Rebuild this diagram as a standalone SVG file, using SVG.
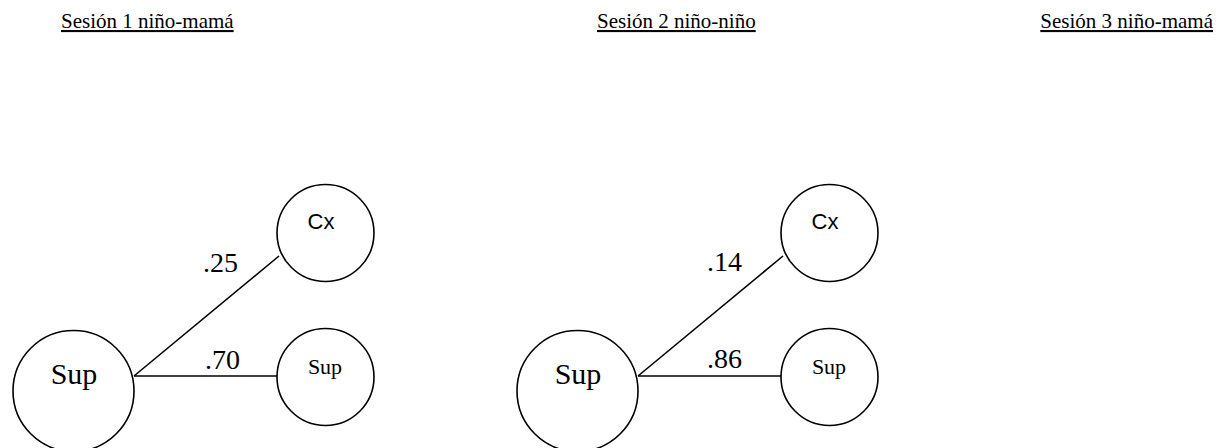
<svg xmlns="http://www.w3.org/2000/svg" width="1219" height="448" viewBox="0 0 1219 448">
  <style>
    .bg { fill: #ffffff; }
    .node { fill: #ffffff; stroke: #000000; stroke-width: 1.6; }
    .edge { stroke: #000000; stroke-width: 1.6; fill: none; }
    .serif { font-family: "Liberation Serif", "Times New Roman", serif; fill: #000000; }
    .sans { font-family: "Liberation Sans", Arial, sans-serif; fill: #000000; }
    .title { font-size: 21px; text-decoration: underline; }
    .big { font-size: 30px; text-anchor: middle; }
    .small { font-size: 22px; text-anchor: middle; }
    .cx { font-size: 22px; text-anchor: middle; }
    .weight { font-size: 28px; }
  </style>
  <rect class="bg" x="0" y="0" width="1219" height="448"/>

  <!-- session headings -->
  <g id="titles">
    <text class="serif title" x="61" y="28">Sesión 1 niño-mamá</text>
    <text class="serif title" x="597" y="28">Sesión 2 niño-niño</text>
    <text class="serif title" x="1213" y="28" text-anchor="end">Sesión 3 niño-mamá</text>
  </g>

  <!-- connectors with their weights -->
  <g id="connectors">
    <line class="edge" x1="134" y1="376" x2="279" y2="256"/>
    <line class="edge" x1="134" y1="376" x2="277" y2="376"/>
    <line class="edge" x1="638" y1="376" x2="783" y2="256"/>
    <line class="edge" x1="638" y1="376" x2="781" y2="376"/>
    <text class="serif weight" x="203" y="272">.25</text>
    <text class="serif weight" x="205" y="369">.70</text>
    <text class="serif weight" x="707" y="271">.14</text>
    <text class="serif weight" x="707" y="368">.86</text>
  </g>

  <!-- session 1 -->
  <g id="s1-sup">
    <circle class="node" cx="73.5" cy="391" r="60.5"/>
    <text class="serif big" x="74" y="384">Sup</text>
  </g>
  <g id="s1-cx">
    <circle class="node" cx="325.5" cy="233" r="48.5"/>
    <text class="sans cx" x="321" y="229">Cx</text>
  </g>
  <g id="s1-sup2">
    <circle class="node" cx="325.5" cy="377" r="48.5"/>
    <text class="serif small" x="325" y="374">Sup</text>
  </g>

  <!-- session 2 -->
  <g id="s2-sup">
    <circle class="node" cx="577.5" cy="391" r="60.5"/>
    <text class="serif big" x="578" y="384">Sup</text>
  </g>
  <g id="s2-cx">
    <circle class="node" cx="829.5" cy="233" r="48.5"/>
    <text class="sans cx" x="825" y="229">Cx</text>
  </g>
  <g id="s2-sup2">
    <circle class="node" cx="829.5" cy="377" r="48.5"/>
    <text class="serif small" x="829" y="374">Sup</text>
  </g>
</svg>
